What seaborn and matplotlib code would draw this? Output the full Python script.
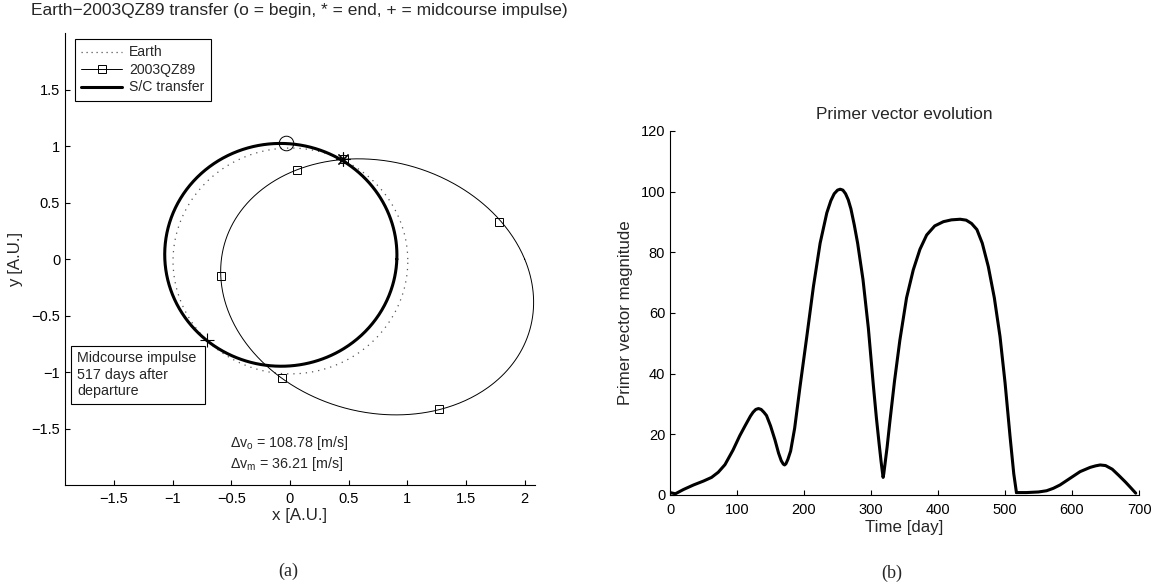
import numpy as np
import pandas as pd
import matplotlib
matplotlib.use("Agg")
import matplotlib.pyplot as plt
from matplotlib.lines import Line2D
from matplotlib.patches import Rectangle
import seaborn as sns

# ---------------------------------------------------------------------------
# Orbital elements in the ecliptic plane:
# (semi-latus rectum [AU], eccentricity, argument of perihelion [deg])
earth_elements = (0.99972, 0.0167, 102.9)
asteroid_elements = (0.904, 0.577, 161.7)
transfer_elements = (0.982, 0.0877, -26.0)

# 2003QZ89 positions at evenly spaced epochs [AU]
asteroid_x = [0.057, -0.590, -0.071, 1.269, 1.783, 0.460]
asteroid_y = [0.789, -0.148, -1.052, -1.327, 0.331, 0.884]

# Spacecraft events [AU]
departure_xy = (-0.03, 1.03)
midcourse_xy = (-0.71, -0.718)
arrival_xy = (0.454, 0.888)

dv_departure = 108.78
dv_midcourse = 36.21
midcourse_day = 517

# Primer vector magnitude along the two legs
leg1_day = [0, 8, 20, 35, 50, 62, 72, 82, 94, 104, 112, 120, 124, 128, 132,
            136, 140, 144, 150, 156.7, 162, 166, 169, 171, 173, 176, 180, 186,
            194, 204, 214, 224, 234, 240, 245, 250, 254, 258, 262, 266, 270,
            275, 280, 288, 296, 303.5, 308, 312, 315, 317, 318, 319, 321, 324,
            328, 335, 343, 353, 363, 373, 383, 395, 408, 420, 433, 442, 450,
            458, 466, 475, 484, 492.5, 500, 507.5, 513, 517]
leg1_mag = [0.8, 0.4, 1.8, 3.3, 4.6, 5.8, 7.5, 10.0, 14.8, 19.5, 22.8, 26.0,
            27.3, 28.2, 28.5, 28.2, 27.3, 26.2, 22.8, 18.1, 13.8, 11.3, 10.2,
            9.9, 10.3, 11.8, 14.5, 22.0, 35.7, 52.0, 68.7, 83.0, 93.0, 97.0,
            99.3, 100.5, 100.8, 100.5, 99.3, 97.3, 94.3, 89.0, 83.0, 71.0,
            55.0, 36.0, 25.4, 17.0, 11.0, 7.5, 5.8, 7.0, 10.5, 15.8, 24.0,
            37.5, 51.0, 65.0, 74.2, 81.0, 85.7, 88.7, 90.1, 90.7, 90.9, 90.6,
            89.5, 87.5, 83.0, 75.3, 65.0, 52.2, 37.0, 19.2, 7.0, 0.8]
leg2_day = [517, 532, 550, 562, 572, 582, 597, 612, 627, 635, 642, 650, 660,
            670, 680, 688, 695]
leg2_mag = [0.8, 0.8, 1.0, 1.4, 2.2, 3.3, 5.5, 7.7, 9.1, 9.6, 9.9, 9.7, 8.5,
            6.4, 4.2, 2.3, 0.6]

orbit_ticks = [-1.5, -1, -0.5, 0, 0.5, 1, 1.5, 2]
day_ticks = [0, 100, 200, 300, 400, 500, 600, 700]
mag_ticks = [0, 20, 40, 60, 80, 100, 120]


def conic_track(elements, n=721):
    """Heliocentric conic r = p / (1 + e cos(theta - omega))."""
    p, e, omega = elements
    theta = np.linspace(0.0, 2.0 * np.pi, n)
    r = p / (1.0 + e * np.cos(theta - np.radians(omega)))
    return pd.DataFrame({"x": r * np.cos(theta), "y": r * np.sin(theta)})


def tick_label(v):
    s = f"{v:g}"
    return s.replace("-", "\u2212")


sns.set_style("ticks")
plt.rcParams["font.family"] = ["Liberation Sans", "DejaVu Sans"]
plt.rcParams["mathtext.fontset"] = "custom"
plt.rcParams["mathtext.rm"] = "Liberation Sans"
plt.rcParams["mathtext.it"] = "Liberation Sans:italic"
plt.rcParams["axes.linewidth"] = 0.8

fig = plt.figure(figsize=(11.57, 5.86), dpi=100)
ax1 = fig.add_axes([0.0562, 0.1724, 0.4058, 0.7708])
ax2 = fig.add_axes([0.5791, 0.1553, 0.4054, 0.6212])

# --- (a) transfer geometry -------------------------------------------------
earth = conic_track(earth_elements)
asteroid = conic_track(asteroid_elements)
transfer = conic_track(transfer_elements)

sns.lineplot(data=earth, x="x", y="y", sort=False, estimator=None, ax=ax1,
             color="#555555", linewidth=0.9, linestyle=(0, (1, 4)))
sns.lineplot(data=asteroid, x="x", y="y", sort=False, estimator=None, ax=ax1,
             color="black", linewidth=0.7)
sns.lineplot(data=transfer, x="x", y="y", sort=False, estimator=None, ax=ax1,
             color="black", linewidth=2.2)

ax1.plot(asteroid_x, asteroid_y, linestyle="none", marker="s", ms=5.2,
         mfc="none", mec="black", mew=0.7)
ax1.plot(*departure_xy, marker="o", ms=10.5, mfc="none", mec="black", mew=0.7)
ax1.plot(*midcourse_xy, marker="+", ms=10, mec="black", mew=0.8)
ax1.plot(*arrival_xy, marker=(8, 2, 0), ms=10, mec="black", mew=0.8)

ax1.set_xlim(-1.916, 2.083)
ax1.set_ylim(-2.0, 2.0)
ax1.set_xticks(orbit_ticks)
ax1.set_xticklabels([tick_label(v) for v in orbit_ticks])
ax1.set_yticks(orbit_ticks[:-1])
ax1.set_yticklabels([tick_label(v) for v in orbit_ticks[:-1]])
ax1.set_xlabel("x [A.U.]", fontsize=12.2)
ax1.set_ylabel("y [A.U.]", fontsize=12.2)
ax1.xaxis.set_label_coords(0.5, -0.052)
ax1.yaxis.set_label_coords(-0.090, 0.5)
ax1.set_title("Earth\u22122003QZ89 transfer (o = begin, * = end, "
              "+ = midcourse impulse)", fontsize=12.5, pad=13)

handles = [
    Line2D([], [], color="#555555", linewidth=0.9, linestyle=(0, (1, 3))),
    Line2D([], [], color="black", linewidth=0.7, marker="s", ms=5.2,
           mfc="none", mec="black", mew=0.7),
    Line2D([], [], color="black", linewidth=2.2),
]
leg = ax1.legend(handles, ["Earth", "2003QZ89", "S/C transfer"],
                 loc="upper left", bbox_to_anchor=(0.0213, 0.987),
                 borderaxespad=0, frameon=True, fancybox=False,
                 edgecolor="black", framealpha=1, fontsize=10.1,
                 handlelength=2.9, handletextpad=0.5, labelspacing=0.25,
                 borderpad=0.45, numpoints=1)
leg.get_frame().set_linewidth(0.8)

# annotation box for the midcourse manoeuvre
ax1.add_patch(Rectangle((0.0121, 0.1793), 0.2861, 0.1291,
                        transform=ax1.transAxes, facecolor="white",
                        edgecolor="black", linewidth=0.8, zorder=5))
note_lines = ["Midcourse impulse", f"{midcourse_day} days after", "departure"]
for i, line in enumerate(note_lines):
    ax1.text(0.0263, 0.2815 - i * 0.0372, line, transform=ax1.transAxes,
             fontsize=10.3, ha="left", va="center", zorder=6)

ax1.text(0.3514, 0.0841,
         r"$\Delta\mathrm{v}_\mathrm{o}$" + f" = {dv_departure:.2f} [m/s]",
         transform=ax1.transAxes, fontsize=10.3, ha="left", va="baseline")
ax1.text(0.3514, 0.0365,
         r"$\Delta\mathrm{v}_\mathrm{m}$" + f" = {dv_midcourse:.2f} [m/s]",
         transform=ax1.transAxes, fontsize=10.3, ha="left", va="baseline")

# --- (b) primer vector history ---------------------------------------------
primer = pd.concat([
    pd.DataFrame({"day": leg1_day, "mag": leg1_mag, "leg": "1"}),
    pd.DataFrame({"day": leg2_day, "mag": leg2_mag, "leg": "2"}),
])
sns.lineplot(data=primer, x="day", y="mag", units="leg", estimator=None,
             sort=False, ax=ax2, color="black", linewidth=2.2)

ax2.set_xlim(0, 700)
ax2.set_ylim(0, 120)
ax2.set_xticks(day_ticks)
ax2.set_yticks(mag_ticks)
ax2.set_xlabel("Time [day]", fontsize=12.2)
ax2.set_ylabel("Primer vector magnitude", fontsize=12.2)
ax2.xaxis.set_label_coords(0.5, -0.068)
ax2.yaxis.set_label_coords(-0.078, 0.5)
ax2.set_title("Primer vector evolution", fontsize=12.4, pad=8.4)

for ax, xpad in ((ax1, 5.2), (ax2, 5.5)):
    sns.despine(ax=ax)
    for side in ("left", "bottom"):
        ax.spines[side].set_color("black")
        ax.spines[side].set_linewidth(0.8)
    ax.tick_params(axis="both", direction="in", length=3.5, width=0.8,
                   colors="black", labelsize=10.5)
    ax.tick_params(axis="x", pad=xpad)
    ax.tick_params(axis="y", pad=3.5)

fig.text(288.6 / 1157, 1 - 571.7 / 586, "(a)", family="Liberation Serif",
         fontsize=13, ha="center", va="center")
fig.text(892 / 1157, 1 - 573 / 586, "(b)", family="Liberation Serif",
         fontsize=13, ha="center", va="center")

fig.savefig("out.png", dpi=100)
